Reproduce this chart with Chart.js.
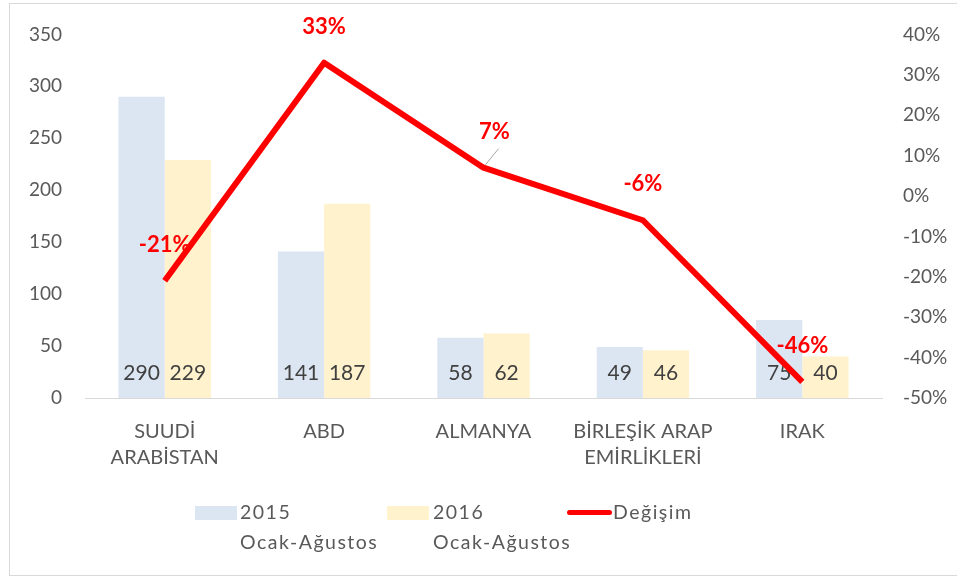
<!DOCTYPE html>
<html>
<head>
<meta charset="utf-8">
<script src="https://cdn.jsdelivr.net/npm/chart.js@4"></script>
<style>
    html, body { margin: 0; padding: 0; background: #fff; }
    #wrap { position: relative; width: 957px; height: 579px; font-family: Lato, sans-serif; }
    #frame { position: absolute; left: 9px; top: 3px; width: 960px; height: 573px; border: 1px solid #d9d9d9; box-sizing: border-box; }
    canvas { position: absolute; left: 0; top: 0; }
    .leg { position: absolute; font-size: 19.5px; letter-spacing: 1.5px; color: #595959; line-height: 30px; }
    .swatch { position: absolute; }
</style>
</head>
<body>
<div id="wrap">
    <div id="frame"></div>
    <canvas id="chart" width="957" height="579"></canvas>
    <div class="swatch" style="left:195px;top:506px;width:42px;height:14px;background:#dce6f2"></div>
    <div class="leg" style="left:240px;top:497px">2015<br>Ocak-Ağustos</div>
    <div class="swatch" style="left:387px;top:506px;width:42px;height:14px;background:#fff2cc"></div>
    <div class="leg" style="left:433px;top:497px">2016<br>Ocak-Ağustos</div>
    <div class="swatch" style="left:567px;top:510px;width:45px;height:5px;border-radius:3px;background:#ff0000"></div>
    <div class="leg" style="left:613px;top:497px">Değişim</div>
</div>
<script>
// Data
const categories = [['SUUDİ', 'ARABİSTAN'], 'ABD', 'ALMANYA', ['BİRLEŞİK ARAP', 'EMİRLİKLERİ'], 'IRAK'];
const values2015 = [290, 141, 58, 49, 75];
const values2016 = [229, 187, 62, 46, 40];
const changePct = [-21, 33, 7, -6, -46];

// labels: bar values at bar foot, % values above line points
const labelPlugin = {
    id: 'labels',
    afterDatasetDraw(chart, args) {
        const ds = chart.data.datasets[args.index];
        if (ds.type === 'line') return;
        const ctx = chart.ctx;
        const y0 = chart.scales.y.getPixelForValue(0);
        ctx.save();
        ctx.font = '21px Lato, sans-serif';
        ctx.fillStyle = '#404040';
        ctx.textAlign = 'center';
        ctx.textBaseline = 'middle';
        args.meta.data.forEach((bar, i) => {
            ctx.fillText(ds.data[i], bar.x, y0 - 25);
        });
        ctx.restore();
    },
    afterDatasetsDraw(chart) {
        const ctx = chart.ctx;
        const meta = chart.getDatasetMeta(2);
        ctx.save();
        ctx.font = 'bold 22px Lato, sans-serif';
        ctx.fillStyle = '#ff0000';
        ctx.textAlign = 'center';
        ctx.textBaseline = 'middle';
        meta.data.forEach((pt, i) => {
            let dx = 0;
            if (i === 2) {
                dx = 11;
                ctx.strokeStyle = '#a6a6a6';
                ctx.lineWidth = 1;
                ctx.beginPath();
                ctx.moveTo(pt.x + 2, pt.y - 3);
                ctx.lineTo(pt.x + 15, pt.y - 19);
                ctx.stroke();
            }
            ctx.fillText(changePct[i] + '%', pt.x + dx, pt.y - 36);
        });
        ctx.restore();
    }
};

Chart.defaults.font.family = 'Lato, sans-serif';
Chart.defaults.color = '#595959';

const ctx = document.getElementById('chart').getContext('2d');
new Chart(ctx, {
    type: 'bar',
    data: {
        labels: categories,
        datasets: [{
            label: '2015 Ocak-Ağustos',
            data: values2015,
            backgroundColor: '#dce6f2',
            yAxisID: 'y',
            order: 2
        }, {
            label: '2016 Ocak-Ağustos',
            data: values2016,
            backgroundColor: '#fff2cc',
            yAxisID: 'y',
            order: 2
        }, {
            type: 'line',
            label: 'Değişim',
            data: changePct,
            borderColor: '#ff0000',
            borderWidth: 6,
            pointRadius: 0,
            borderJoinStyle: 'round',
            yAxisID: 'y1',
            order: 1
        }]
    },
    options: {
        responsive: false,
        animation: false,
        layout: { padding: { top: 33, bottom: 81, left: 0, right: 0 } },
        plugins: {
            legend: { display: false },
            tooltip: { enabled: false }
        },
        datasets: {
            bar: { categoryPercentage: 0.58, barPercentage: 1 }
        },
        scales: {
            x: {
                grid: { display: false, drawTicks: false },
                border: { display: true, color: '#d9d9d9', width: 1 },
                ticks: { font: { size: 20, lineHeight: 1.3 }, padding: 21, maxRotation: 0, autoSkip: false },
                afterFit: s => { s.height = 100; }
            },
            y: {
                min: 0, max: 350,
                ticks: { stepSize: 50, font: { size: 19 }, padding: 23 },
                grid: { display: false, drawTicks: false },
                border: { display: false },
                afterFit: s => { s.width = 85; }
            },
            y1: {
                position: 'right',
                min: -50, max: 40,
                ticks: { stepSize: 10, font: { size: 19 }, padding: 21, callback: v => v + '%' },
                grid: { display: false, drawTicks: false },
                border: { display: false },
                afterFit: s => { s.width = 75; }
            }
        }
    },
    plugins: [labelPlugin]
});
</script>
</body>
</html>
